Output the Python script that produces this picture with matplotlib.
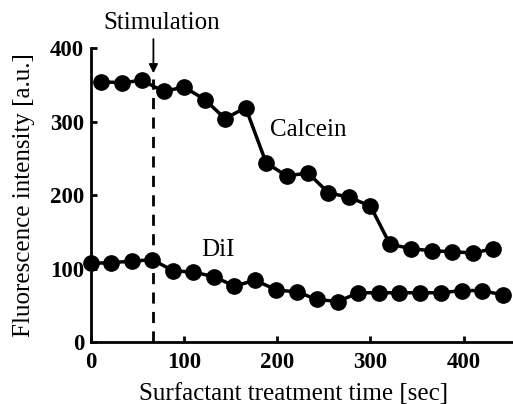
import matplotlib.pyplot as plt
import numpy as np

plt.rcParams['font.family'] = ['Liberation Serif', 'DejaVu Serif']

calcein_t = np.array([11, 33, 55, 78, 100, 122, 144, 166, 188, 210, 233, 255, 277,
                      300, 321, 344, 366, 388, 410, 432])
calcein = np.array([354, 353, 356, 341, 347, 330, 304, 319, 244, 226, 230, 203, 197,
                    185, 133, 127, 124, 123, 121, 127])

dil_t = np.array([0, 22, 44, 66, 88, 110, 132, 154, 176, 199, 221, 243, 265, 287,
                  309, 331, 353, 376, 398, 420, 442])
dil = np.array([107, 108, 110, 112, 97, 95, 89, 76, 84, 71, 68, 58, 55, 67,
                67, 67, 67, 67, 70, 70, 64])

stim_time = 67

fig = plt.figure(figsize=(5.13, 4.04), dpi=100)
ax = fig.add_axes([0.1774, 0.1535, 0.8206, 0.7275])

ax.plot(calcein_t, calcein, color='black', lw=2.5, marker='o', ms=11, clip_on=False, zorder=3)
ax.plot(dil_t, dil, color='black', lw=2.5, marker='o', ms=11, clip_on=False, zorder=3)

ax.plot([stim_time, stim_time], [0, 358], color='black', lw=2, linestyle=(0, (4, 3)))
ax.annotate('', xy=(stim_time, 362), xytext=(stim_time, 416),
            arrowprops=dict(arrowstyle='-|>', color='black', lw=1.3, mutation_scale=13),
            annotation_clip=False)
ax.text(76, 434, 'Stimulation', fontsize=18, ha='center', va='center')
ax.text(233, 288, 'Calcein', fontsize=18, ha='center', va='center')
ax.text(136, 125, 'DiI', fontsize=18, ha='center', va='center')

ax.set_xlim(0, 452)
ax.set_ylim(0, 400)
ax.set_xticks([0, 100, 200, 300, 400])
ax.set_yticks([0, 100, 200, 300, 400])
ax.spines['top'].set_visible(False)
ax.spines['right'].set_visible(False)
ax.spines['left'].set_linewidth(2)
ax.spines['bottom'].set_linewidth(2)
ax.tick_params(direction='in', length=4, width=2, labelsize=16.5)
ax.tick_params(axis='x', pad=7)
ax.tick_params(axis='y', pad=5)
for lab in ax.get_xticklabels() + ax.get_yticklabels():
    lab.set_fontweight('bold')

ax.set_xlabel('Surfactant treatment time [sec]', fontsize=18)
ax.set_ylabel('Fluorescence intensity [a.u.]', fontsize=18)
ax.xaxis.set_label_coords(0.48, -0.14)
ax.yaxis.set_label_coords(-0.133, 0.5)

fig.savefig('out.png', dpi=100)
